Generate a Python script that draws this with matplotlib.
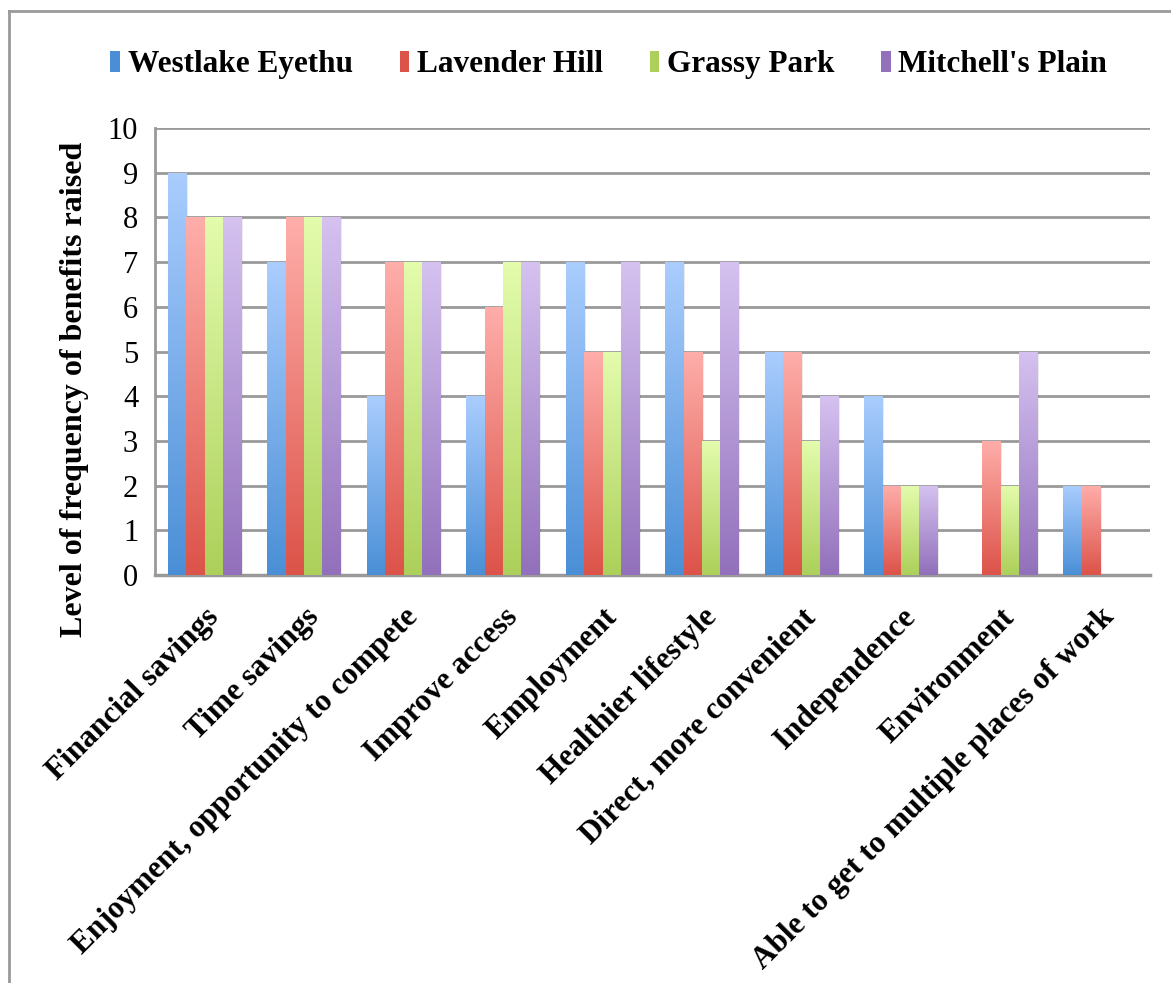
import numpy as np
import matplotlib.pyplot as plt
from matplotlib.colors import LinearSegmentedColormap
from matplotlib.patches import Patch
from matplotlib.lines import Line2D

categories = ["Financial savings", "Time savings", "Enjoyment, opportunity to compete",
              "Improve access", "Employment", "Healthier lifestyle",
              "Direct, more convenient", "Independence", "Environment",
              "Able to get to multiple places of work"]
series = ["Westlake Eyethu", "Lavender Hill", "Grassy Park", "Mitchell's Plain"]
westlake = [9, 7, 4, 4, 7, 7, 5, 4, 0, 2]
lavender = [8, 8, 7, 6, 5, 5, 5, 2, 3, 2]
grassy = [8, 8, 7, 7, 5, 3, 3, 2, 2, 0]
mitchell = [8, 8, 7, 7, 7, 7, 4, 2, 5, 0]
values = [westlake, lavender, grassy, mitchell]

# top colour, bottom colour
grads = [("#aacdfe", "#4a8fd6"), ("#ffaeaa", "#dc5349"),
         ("#e3fcad", "#acd05a"), ("#d5c2f0", "#9270bb")]

serif = "Liberation Serif"

fig = plt.figure(figsize=(11.71, 9.83), dpi=100)
ax = fig.add_axes([0.1322, 0.415, 0.8497, 0.4548])

x = np.arange(len(categories))
w = 0.184
for i, vals in enumerate(values):
    pos = x + (i - 1.5) * w
    bars = ax.bar(pos, vals, w, color="none", edgecolor="none", zorder=3)
    cmap = LinearSegmentedColormap.from_list("g%d" % i, [grads[i][1], grads[i][0]])
    grad = np.linspace(0, 1, 256).reshape(-1, 1)
    for b in bars:
        if b.get_height() <= 0:
            continue
        x0, y0 = b.get_x(), b.get_y()
        # soft shadow
        ax.bar(x0 + w / 2 + 0.015, b.get_height(), w, bottom=-0.03, color="#000000",
               alpha=0.08, zorder=2, edgecolor="none")
        im = ax.imshow(grad, cmap=cmap, origin="lower", aspect="auto",
                       extent=[x0, x0 + w, y0, y0 + b.get_height()], zorder=4)
        im.set_clip_path(b)

ax.set_xlim(-0.5, 9.5)
ax.set_ylim(0, 10)
ax.set_yticks(range(0, 11))
ax.yaxis.grid(True, color="#999999", lw=2, zorder=1)
ax.set_axisbelow(True)
for s in ["top", "right"]:
    ax.spines[s].set_visible(False)
ax.spines["left"].set_color("#999999")
ax.spines["left"].set_linewidth(2)
ax.spines["bottom"].set_color("#999999")
ax.spines["bottom"].set_linewidth(2.5)
ax.tick_params(axis="both", length=0)
ax.tick_params(axis="y", pad=12)
ax.set_yticklabels([str(v) for v in range(11)], fontsize=22, family=serif)
ax.set_xticks(x)
ax.set_xticklabels(categories, rotation=45, ha="right", va="top",
                   rotation_mode="anchor", fontsize=22.5, fontweight="bold", family=serif)
ax.tick_params(axis="x", pad=20)
ax.set_ylabel("Level of frequency of benefits raised", fontsize=23,
              fontweight="bold", family=serif)
ax.yaxis.set_label_coords(-0.066, 0.416)
ax.set_xlim(-0.5, 9.5)

handles = [Patch(facecolor=grads[i][1], edgecolor="none") for i in range(4)]
fig.legend(handles, series, loc="center", bbox_to_anchor=(0.52, 0.934), ncol=4,
           frameon=False, prop={"family": serif, "weight": "bold", "size": 22.5},
           handlelength=0.3, handleheight=0.7, handletextpad=0.25, columnspacing=1.5)

# outer chart frame (left and top edges)
fig.add_artist(Line2D([0.0075, 0.0075], [0, 0.989], color="#999999", lw=2,
                      transform=fig.transFigure))
fig.add_artist(Line2D([0.0075, 1.0], [0.989, 0.989], color="#999999", lw=2,
                      transform=fig.transFigure))

fig.savefig("out.png", dpi=100)
